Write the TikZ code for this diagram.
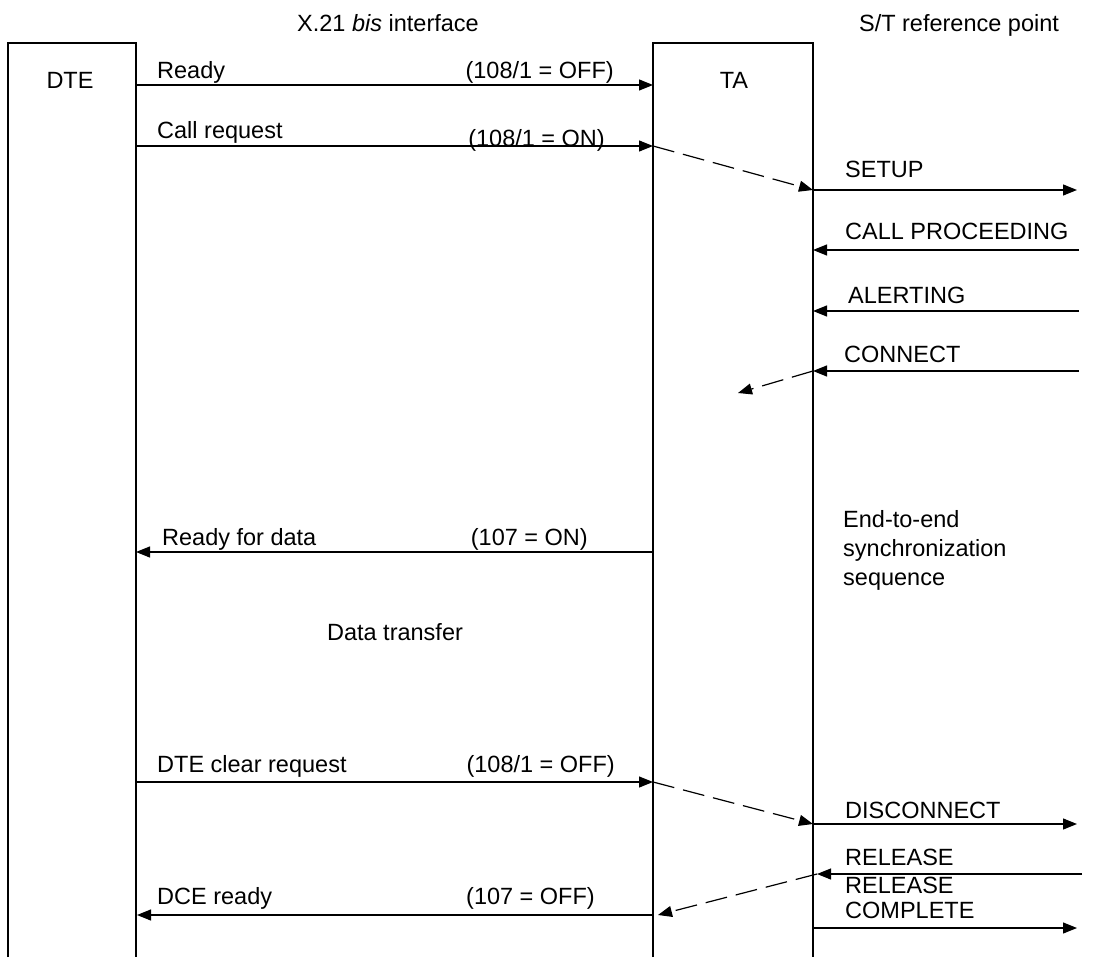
\documentclass[tikz,border=0pt]{standalone}
\usepackage{fontspec}
\setmainfont{Liberation Sans}
\usetikzlibrary{arrows.meta}

\tikzset{
  msg/.style={-{Triangle[length=14pt,width=11pt]}, line width=1.2pt},
  dmsg/.style={msg, dash pattern=on 22pt off 9pt},
  lbl/.style={anchor=base west, inner sep=0pt},
  rlbl/.style={anchor=base east, inner sep=0pt},
}

\begin{document}
\begin{tikzpicture}[x=1pt,y=-1pt,font=\fontsize{23.5}{29}\selectfont]
  \useasboundingbox (0,0) rectangle (1095,965);
  % the two units, open at the bottom
  \draw[line width=1.2pt] (8,957) |- (136,43) -- (136,957);
  \draw[line width=1.2pt] (653,957) |- (813,43) -- (813,957);
  \node (xif) at (388,23) {X.21 \textit{bis} interface};
  \node (stref) at (959,25) {S/T reference point};
  \node (dte) at (70,80) {DTE};
  \node (ta) at (734,80) {TA};

  % message ends on the DTE, TA and network side
  \coordinate (d1) at (136,85);  \coordinate (t1) at (653,85);
  \coordinate (d2) at (136,146); \coordinate (t2) at (653,146);
  \coordinate (s2) at (813,190); \coordinate (n2) at (1077,190);
  \coordinate (s3) at (813,250); \coordinate (n3) at (1079,250);
  \coordinate (s4) at (813,311); \coordinate (n4) at (1079,311);
  \coordinate (s5) at (813,371); \coordinate (n5) at (1079,371);
  \coordinate (c5) at (738,393);
  \coordinate (d6) at (136,552); \coordinate (t6) at (653,552);
  \coordinate (d7) at (136,782); \coordinate (t7) at (653,782);
  \coordinate (s7) at (813,824); \coordinate (n7) at (1077,824);
  \coordinate (s8) at (817,874); \coordinate (n8) at (1082,874);
  \coordinate (d9) at (137,915); \coordinate (t9) at (653,915);
  \coordinate (e9) at (658,915);
  \coordinate (s9) at (813,928); \coordinate (n9) at (1077,928);

  \draw[msg] (d1) -- (t1);
  \draw[msg] (d2) -- (t2);
  \draw[dmsg] (t2) -- (s2);
  \draw[msg] (s2) -- (n2);
  \draw[msg] (n3) -- (s3);
  \draw[msg] (n4) -- (s4);
  \draw[msg] (n5) -- (s5);
  \draw[dmsg] (s5) -- (c5);
  \draw[msg] (t6) -- (d6);
  \draw[msg] (d7) -- (t7);
  \draw[dmsg] (t7) -- (s7);
  \draw[msg] (s7) -- (n7);
  \draw[msg] (n8) -- (s8);
  \draw[dmsg] (s8) -- (e9);
  \draw[msg] (t9) -- (d9);
  \draw[msg] (s9) -- (n9);

  % labels
  \node[lbl] (lready) at (157,79) {Ready};
  \node[rlbl] (c108a) at (614,79) {(108/1 = OFF)};
  \node[lbl] (lcall) at (157,139) {Call request};
  \node[rlbl] (c108b) at (605,147) {(108/1 = ON)};
  \node[lbl] (lsetup) at (845,178) {SETUP};
  \node[lbl] (lproc) at (845,240) {CALL PROCEEDING};
  \node[lbl] (lalert) at (848,304) {ALERTING};
  \node[lbl] (lconn) at (844,363) {CONNECT};
  \node[lbl] (lrdata) at (162,545) {Ready for data};
  \node[rlbl] (c107a) at (588,545) {(107 = ON)};
  \node[anchor=north west, inner sep=0pt, align=left] (lsync) at (843,510)
    {End-to-end\\synchronization\\sequence};
  \node[anchor=base] (ldata) at (395,640) {Data transfer};
  \node[lbl] (lclear) at (157,772) {DTE clear request};
  \node[rlbl] (c108c) at (615,772) {(108/1 = OFF)};
  \node[lbl] (ldisc) at (845,818) {DISCONNECT};
  \node[lbl] (lrel) at (845,865) {RELEASE};
  \node[anchor=north west, inner sep=0pt, align=left,
    font=\fontsize{23.5}{25}\selectfont] (lrelc) at (845,877) {RELEASE\\COMPLETE};
  \node[lbl] (ldce) at (157,904) {DCE ready};
  \node[rlbl] (c107b) at (595,904) {(107 = OFF)};
\end{tikzpicture}
\end{document}
